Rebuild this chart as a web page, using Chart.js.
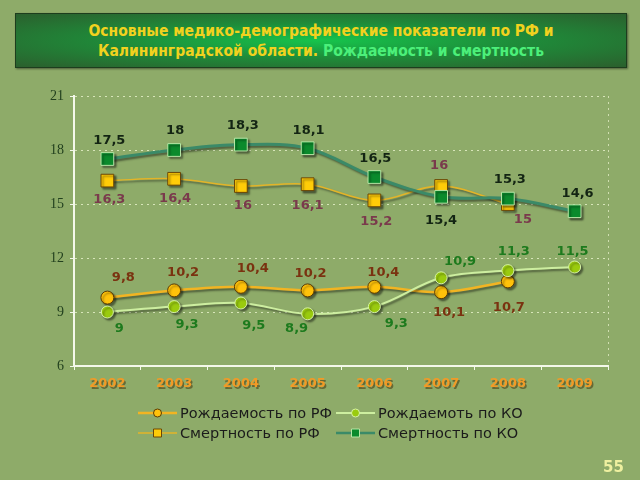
<!DOCTYPE html>
<html>
<head>
<meta charset="utf-8">
<script src="https://cdn.jsdelivr.net/npm/chart.js@4"></script>
<style>
html, body { margin: 0; padding: 0; }
body { width: 640px; height: 480px; background: #8eab69; position: relative; overflow: hidden; }
#title {
  position: absolute; left: 15px; top: 13px; width: 610px; height: 53px;
  border: 1px solid #1d3d1d;
  background: radial-gradient(ellipse at center, #16c44c 0%, #1e8d3a 45%, #2b5f2d 100%);
  box-shadow: 1px 1px 2px rgba(0,0,0,.45);
  color: #f2d21e; font: bold 15.5px "DejaVu Sans Condensed", "DejaVu Sans", sans-serif;
  text-align: center; line-height: 20px;
  display: flex; flex-direction: column; justify-content: center;
}
#title span { color: #4cf07a; }
#page { position: absolute; left: 603px; top: 458px; color: #eef0a0; font: bold 15px "DejaVu Sans", sans-serif; }
#wrap { position: absolute; left: 0; top: 0; width: 640px; height: 480px; }
</style>
</head>
<body>
<div id="title">
  <div>Основные медико-демографические показатели по РФ и</div>
  <div>Калининградской области. <span>Рождаемость и смертность</span></div>
</div>
<div id="wrap"><canvas id="myChart" width="640" height="480"></canvas></div>
<div id="page">55</div>
<script>
const years = ["2002", "2003", "2004", "2005", "2006", "2007", "2008", "2009"];
const birthRF = [9.8, 10.2, 10.4, 10.2, 10.4, 10.1, 10.7, null];
const birthKO = [9, 9.3, 9.5, 8.9, 9.3, 10.9, 11.3, 11.5];
const deathRF = [16.3, 16.4, 16, 16.1, 15.2, 16, 15, null];
const deathKO = [17.5, 18, 18.3, 18.1, 16.5, 15.4, 15.3, 14.6];
const seriesNames = ["Рождаемость по РФ", "Рождаемоть по КО", "Смертность по РФ", "Смертность по КО"];
const yTicks = [6, 9, 12, 15, 18, 21];

// where each value label sits relative to its point [dx, dy]
const labelOffsets = [
  [[16,-20],[9,-18],[12,-18],[3,-17],[9,-14],[8,20],[1,26]],
  [[12,17],[13,18],[13,23],[-11,15],[22,17],[19,-16],[6,-19],[-2,-15]],
  [[2,19],[1,20],[2,20],[0,21],[2,21],[-2,-20],[15,16]],
  [[2,-18],[1,-19],[2,-19],[1,-18],[1,-18],[0,24],[2,-19],[3,-18]]
];
const labelColors = ["#7a3210", "#1d7a1d", "#7a3a4c", "#132413"];

const fmt = v => String(v).replace(".", ",");

const valueLabels = {
  id: "valueLabels",
  beforeDatasetsDraw(chart) {
    const ctx = chart.ctx;
    ctx.save();
    ctx.shadowColor = "rgba(0,0,0,0.45)";
    ctx.shadowOffsetX = 2;
    ctx.shadowOffsetY = 2;
    ctx.shadowBlur = 2;
  },
  afterDatasetsDraw(chart) {
    const ctx = chart.ctx;
    ctx.restore();
    ctx.save();
    ctx.font = "bold 13px 'DejaVu Sans'";
    ctx.textAlign = "center";
    ctx.textBaseline = "middle";
    chart.data.datasets.forEach((ds, i) => {
      const meta = chart.getDatasetMeta(i);
      ctx.fillStyle = labelColors[i];
      ds.data.forEach((v, j) => {
        if (v == null) return;
        const pt = meta.data[j];
        const off = labelOffsets[i][j];
        ctx.fillText(fmt(v), pt.x + off[0], pt.y + off[1]);
      });
    });
    ctx.restore();
  }
};

// dark shadow under the orange year labels, plus dotted right border
const decor = {
  id: "decor",
  beforeDraw(chart) {
    const ctx = chart.ctx;
    const x = chart.scales.x;
    ctx.save();
    ctx.font = "bold 13px 'DejaVu Sans'";
    ctx.textAlign = "center";
    ctx.textBaseline = "middle";
    ctx.fillStyle = "rgba(70,50,10,0.55)";
    years.forEach((y, i) => {
      ctx.fillText(y, x.getPixelForTick(i) + 1.5, chart.chartArea.bottom + 19.5);
    });
    ctx.restore();
  },
  afterDraw(chart) {
    const ctx = chart.ctx;
    const a = chart.chartArea;
    ctx.save();
    ctx.strokeStyle = "rgba(225,235,195,0.8)";
    ctx.setLineDash([2, 4]);
    ctx.lineWidth = 1;
    ctx.beginPath();
    ctx.moveTo(a.right + 0.5, a.top);
    ctx.lineTo(a.right + 0.5, a.bottom);
    ctx.stroke();
    ctx.restore();
  }
};

function drawMarker(ctx, ds, cx, cy, r) {
  ctx.fillStyle = ds.pointBackgroundColor;
  ctx.strokeStyle = ds.pointBorderColor;
  ctx.lineWidth = 1;
  ctx.beginPath();
  if (ds.pointStyle === "rect") ctx.rect(cx - r, cy - r, 2 * r, 2 * r);
  else ctx.arc(cx, cy, r, 0, Math.PI * 2);
  ctx.fill();
  ctx.stroke();
}

const legendBox = {
  id: "legendBox",
  afterDraw(chart) {
    const ctx = chart.ctx;
    const spots = [[138, 413], [336, 413], [138, 433], [336, 433]];
    ctx.save();
    ctx.font = "14.5px 'DejaVu Sans'";
    ctx.textBaseline = "middle";
    chart.data.datasets.forEach((ds, i) => {
      const [x, y] = spots[i];
      ctx.strokeStyle = ds.borderColor;
      ctx.lineWidth = Math.min(ds.borderWidth, 2.5);
      ctx.beginPath();
      ctx.moveTo(x, y);
      ctx.lineTo(x + 39, y);
      ctx.stroke();
      drawMarker(ctx, ds, x + 19.5, y, 4);
      ctx.fillStyle = "#1b1b1b";
      ctx.fillText(ds.label, x + 42, y + 1);
    });
    ctx.restore();
  }
};

const ctx = document.getElementById("myChart").getContext("2d");
new Chart(ctx, {
  type: "line",
  data: {
    labels: years,
    datasets: [{
      label: seriesNames[0],
      data: birthRF,
      borderColor: "#f2b422",
      borderWidth: 2.5,
      pointStyle: "circle",
      pointRadius: 6.5,
      pointBackgroundColor: "#ffc20a",
      pointBorderColor: "#5a3a04",
      pointBorderWidth: 1,
      order: 2
    }, {
      label: seriesNames[1],
      data: birthKO,
      borderColor: "#cdeea0",
      borderWidth: 2,
      pointStyle: "circle",
      pointRadius: 6,
      pointBackgroundColor: "#9acb0e",
      pointBorderColor: "#d6f2a6",
      pointBorderWidth: 1,
      order: 1
    }, {
      label: seriesNames[2],
      data: deathRF,
      borderColor: "#e3b428",
      borderWidth: 1.5,
      pointStyle: "rect",
      pointRadius: 9,
      pointBackgroundColor: "#ffcc08",
      pointBorderColor: "#6a4606",
      pointBorderWidth: 1,
      order: 4
    }, {
      label: seriesNames[3],
      data: deathKO,
      borderColor: "#3b8a68",
      borderWidth: 3,
      pointStyle: "rect",
      pointRadius: 9,
      pointBackgroundColor: "#0b8a2c",
      pointBorderColor: "#b6e6a6",
      pointBorderWidth: 1,
      order: 3
    }]
  },
  options: {
    responsive: false,
    animation: false,
    layout: { padding: { left: 0, top: 96, right: 32, bottom: 84 } },
    elements: { line: { tension: 0.35 } },
    plugins: {
      legend: { display: false },
      tooltip: { enabled: false }
    },
    scales: {
      x: {
        offset: true,
        afterFit: s => { s.height = 30; },
        grid: { drawOnChartArea: false, drawTicks: true, tickLength: 4, color: "#f4f8ea", offset: true },
        border: { color: "#f4f8ea", width: 2 },
        ticks: { color: "#f29a26", font: { family: "DejaVu Sans", size: 13, weight: "bold" }, padding: 6 }
      },
      y: {
        min: 6,
        max: 21,
        afterFit: s => { s.width = 74; },
        afterBuildTicks: s => { s.ticks = yTicks.map(v => ({ value: v })); },
        grid: { color: "rgba(228,238,200,0.85)", lineWidth: 1, tickLength: 4, tickColor: "#f4f8ea" },
        border: { color: "#f4f8ea", width: 2, dash: [2, 4] },
        ticks: { color: "#22401e", font: { family: "Liberation Serif", size: 14 }, padding: 6 }
      }
    }
  },
  plugins: [valueLabels, decor, legendBox]
});
</script>
</body>
</html>
